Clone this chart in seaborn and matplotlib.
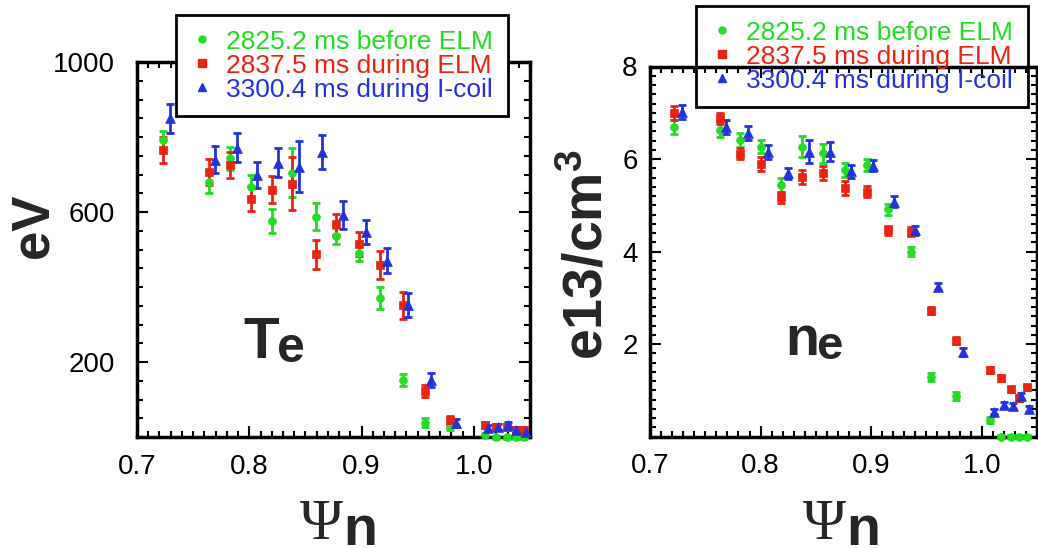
import numpy as np
import pandas as pd
import matplotlib
matplotlib.use("Agg")
import matplotlib.pyplot as plt
from matplotlib.lines import Line2D
from matplotlib.ticker import FixedLocator, MultipleLocator
import seaborn as sns

# --- data ---
labels = ["2825.2 ms before ELM", "2837.5 ms during ELM", "3300.4 ms during I-coil"]
colors = ["#22dd22", "#ee2211", "#2233dd"]
markers = ["o", "s", "^"]
msizes = [32, 40, 50]

# Te (eV)
te_psi_green = [0.7233, 0.7637, 0.7832, 0.8018, 0.8200, 0.8383, 0.8590, 0.8773, 0.8978,
                0.9166, 0.9372, 0.9564, 0.9785, 1.0095, 1.0197, 1.0292, 1.0374, 1.0449]
te_green = [792, 681, 743, 668, 576, 705, 588, 536, 490, 370, 152, 38, 26, 5, 0, 0, 0, 0]
te_green_err = [25, 30, 30, 30, 32, 65, 36, 22, 20, 29, 16, 12, 8, 5, 4, 4, 4, 4]

te_psi_red = te_psi_green
te_red = [765, 707, 725, 636, 660, 676, 487, 567, 515, 459, 352, 124, 45, 32, 26, 28, 20, 19]
te_red_err = [35, 35, 35, 33, 35, 70, 38, 28, 31, 38, 36, 16, 10, 8, 8, 8, 8, 8]

te_psi_blue = [0.7292, 0.7699, 0.7891, 0.8073, 0.8259, 0.8442, 0.8649, 0.8835, 0.9035,
               0.9230, 0.9416, 0.9617, 0.9843, 1.0124, 1.0212, 1.0301, 1.0374, 1.0463]
te_blue = [850, 740, 772, 699, 732, 721, 761, 592, 548, 470, 352, 152, 38, 23, 26, 32, 19, 14]
te_blue_err = [38, 35, 38, 35, 38, 68, 45, 38, 32, 33, 31, 18, 10, 8, 8, 8, 8, 8]

# ne (e13/cm3)
ne_psi_green = [0.7217, 0.7634, 0.7818, 0.8007, 0.8187, 0.8374, 0.8566, 0.8764, 0.8963,
                0.9154, 0.9356, 0.9542, 0.9770, 1.0075, 1.0175, 1.0264, 1.0341, 1.0414]
ne_green = [6.70, 6.63, 6.41, 6.27, 5.44, 6.27, 6.12, 5.76, 5.87,
            4.91, 4.00, 1.29, 0.88, 0.36, 0.0, 0.0, 0.0, 0.0]
ne_green_err = [0.15, 0.15, 0.15, 0.15, 0.15, 0.23, 0.2, 0.15, 0.12,
                0.12, 0.1, 0.08, 0.08, 0.06, 0.03, 0.03, 0.03, 0.03]

ne_psi_red = ne_psi_green
ne_red = [6.99, 6.88, 6.11, 5.89, 5.17, 5.62, 5.69, 5.37, 5.29,
          4.46, 4.43, 2.72, 2.07, 1.44, 1.26, 1.02, 0.83, 1.06]
ne_red_err = [0.15, 0.12, 0.12, 0.15, 0.12, 0.15, 0.15, 0.15, 0.12,
              0.1, 0.1, 0.08, 0.08, 0.06, 0.06, 0.06, 0.06, 0.06]

ne_psi_blue = [0.7286, 0.7690, 0.7886, 0.8063, 0.8247, 0.8439, 0.8631, 0.8817, 0.9016,
               0.9208, 0.9400, 0.9602, 0.9829, 1.0110, 1.0199, 1.0281, 1.0352, 1.0430]
ne_blue = [7.02, 6.70, 6.56, 6.16, 5.69, 6.16, 6.16, 5.73, 5.85,
           5.08, 4.46, 3.24, 1.83, 0.54, 0.68, 0.66, 0.88, 0.59]
ne_blue_err = [0.15, 0.15, 0.15, 0.15, 0.12, 0.25, 0.2, 0.15, 0.12,
               0.12, 0.1, 0.08, 0.08, 0.06, 0.06, 0.06, 0.06, 0.06]

te_df = pd.DataFrame({
    "psi": te_psi_green + te_psi_red + te_psi_blue,
    "val": te_green + te_red + te_blue,
    "err": te_green_err + te_red_err + te_blue_err,
    "series": [labels[0]] * 18 + [labels[1]] * 18 + [labels[2]] * 18,
})
ne_df = pd.DataFrame({
    "psi": ne_psi_green + ne_psi_red + ne_psi_blue,
    "val": ne_green + ne_red + ne_blue,
    "err": ne_green_err + ne_red_err + ne_blue_err,
    "series": [labels[0]] * 18 + [labels[1]] * 18 + [labels[2]] * 18,
})

sns.set_style("ticks")
plt.rcParams["font.family"] = ["Liberation Sans", "DejaVu Sans"]
plt.rcParams["mathtext.fontset"] = "custom"
plt.rcParams["mathtext.bf"] = "Liberation Sans:bold"
plt.rcParams["mathtext.rm"] = "Liberation Sans"

W, H = 1038, 548
fig = plt.figure(figsize=(W / 100, H / 100), dpi=100)


def box(l, t, r, b):
    return [l / W, 1 - b / H, (r - l) / W, (b - t) / H]


ax1 = fig.add_axes(box(137, 62, 530, 437))
ax2 = fig.add_axes(box(650, 66.5, 1037, 436.5))


def draw(ax, df):
    for lab, c, m, s in zip(labels, colors, markers, msizes):
        d = df[df["series"] == lab]
        ax.errorbar(d["psi"], d["val"], yerr=d["err"], fmt="none", ecolor=c,
                    elinewidth=2, capsize=2.8, capthick=2, clip_on=False)
        sns.scatterplot(data=d, x="psi", y="val", color=c, marker=m, s=s,
                        edgecolor=c, linewidth=0.5, ax=ax, legend=False,
                        clip_on=False, zorder=3)
    ax.set_xlim(0.7, 1.05)
    ax.set_xlabel("")
    ax.set_ylabel("")
    ax.xaxis.set_major_locator(FixedLocator([0.7, 0.8, 0.9, 1.0]))
    ax.xaxis.set_minor_locator(MultipleLocator(0.01))
    ax.set_xticklabels(["0.7", "0.8", "0.9", "1.0"])
    ax.tick_params(which="both", direction="in", top=True, right=True,
                   width=1.5, colors="black", labelsize=20)
    ax.tick_params(which="major", length=8)
    ax.tick_params(which="minor", length=4)
    ax.tick_params(axis="x", pad=12)
    for sp in ax.spines.values():
        sp.set_linewidth(2.5)
        sp.set_color("black")


draw(ax1, te_df)
ax1.set_ylim(0, 1000)
ax1.yaxis.set_major_locator(FixedLocator([200, 600, 1000]))
ax1.yaxis.set_minor_locator(MultipleLocator(50))
ax1.tick_params(axis="y", pad=16)

draw(ax2, ne_df)
ax2.set_ylim(0, 8)
ax2.yaxis.set_major_locator(FixedLocator([2, 4, 6, 8]))
ax2.yaxis.set_minor_locator(MultipleLocator(0.2))
ax2.tick_params(axis="y", pad=9)


def px(x, y):
    return x / W, 1 - y / H


# axis labels
fig.text(*px(34, 226), "eV", rotation=90, fontsize=38, fontweight="bold",
         ha="center", va="center")
fig.text(*px(588, 255), r"$\mathbf{e13/cm^3}$", rotation=90, fontsize=40,
         ha="center", va="center")
for xl in (300, 803):
    fig.text(*px(xl, 539), "\u03a8", fontsize=42, family=["Liberation Serif", "DejaVu Serif"],
             ha="left", va="baseline")
    fig.text(*px(xl + 43, 545), "n", fontsize=40, fontweight="bold",
             ha="left", va="baseline")

# panel names
fig.text(*px(243, 358), "T", fontsize=42, fontweight="bold", ha="left", va="baseline")
fig.text(*px(277, 362), "e", fontsize=36, fontweight="bold", ha="left", va="baseline")
fig.text(*px(785, 355), "n", fontsize=40, fontweight="bold", ha="left", va="baseline")
fig.text(*px(816, 359), "e", fontsize=34, fontweight="bold", ha="left", va="baseline")

# legends
handles = [Line2D([], [], linestyle="none", marker=m, color=c, markersize=ms)
           for m, c, ms in zip(markers, colors, [5, 5.5, 6])]
for (l, t), opaque in (((176, 15), True), ((696, 6), False)):
    leg = fig.legend(handles, labels, loc="upper left", bbox_to_anchor=px(l, t),
                     bbox_transform=fig.transFigure, borderaxespad=0, fontsize=19,
                     frameon=True, fancybox=False, edgecolor="black", framealpha=1,
                     borderpad=0.55, labelspacing=0.0, handlelength=0.9,
                     handletextpad=0.45, labelcolor=colors)
    frame = leg.get_frame()
    frame.set_linewidth(2)
    frame.set_edgecolor("black")
    if not opaque:
        frame.set_facecolor("none")

fig.savefig("out.png", dpi=100)
